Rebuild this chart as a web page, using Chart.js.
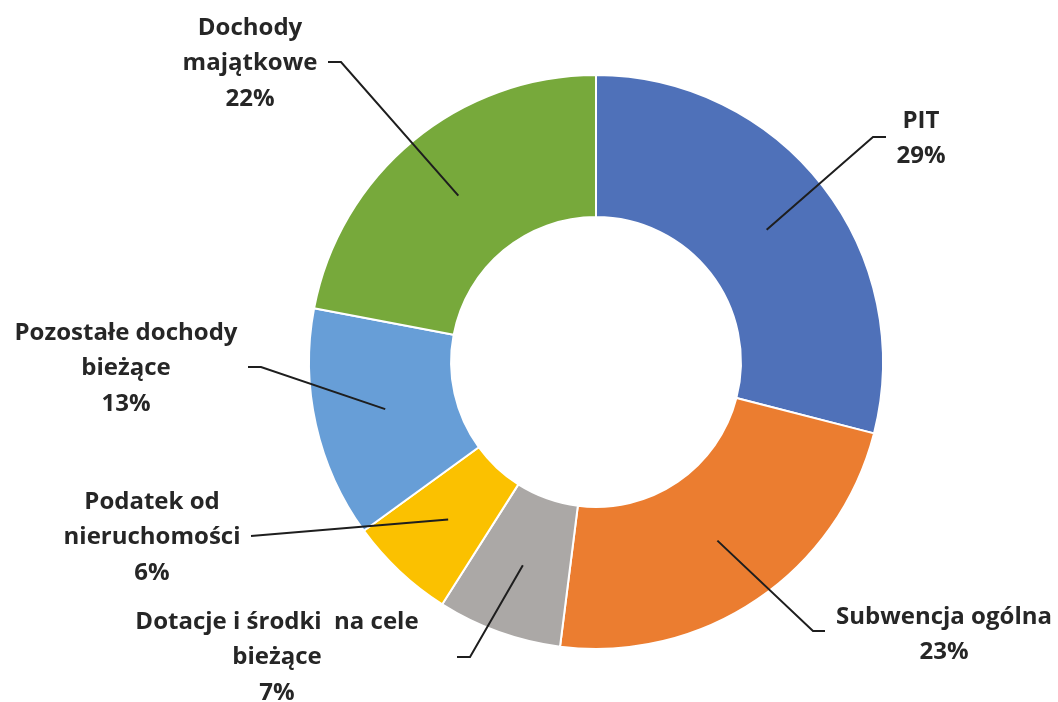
<!DOCTYPE html>
<html lang="pl">
<head>
<meta charset="utf-8">
<title>Struktura dochodów</title>
<script src="https://cdn.jsdelivr.net/npm/chart.js@4"></script>
<style>
    html, body { margin: 0; padding: 0; background: #ffffff; }
    .wrap { width: 1058px; height: 702px; position: relative; }
</style>
</head>
<body>
<div class="wrap"><canvas id="donutChart"></canvas></div>
<script>
// dane
const categories = ['PIT', 'Subwencja ogólna', 'Dotacje i środki  na cele bieżące', 'Podatek od nieruchomości', 'Pozostałe dochody bieżące', 'Dochody majątkowe'];
const shares = [29, 23, 7, 6, 13, 22];
const labelLines = [
    ['PIT'],
    ['Subwencja ogólna'],
    ['Dotacje i środki  na cele', 'bieżące'],
    ['Podatek od', 'nieruchomości'],
    ['Pozostałe dochody', 'bieżące'],
    ['Dochody', 'majątkowe']
];
const colors = ['#4F71B9', '#EB7D30', '#ABA8A6', '#FBC100', '#679ED7', '#77A93B'];

// label placement, relative to the chart centre (px)
const labelLayout = [
    { elbow: [277, -225], tail: 13,  text: [325, -241] },
    { elbow: [217, 269],  tail: 12,  text: [348, 255] },
    { elbow: [-126, 295], tail: -13, text: [-319, 260] },
    { elbow: [-345, 174], tail: 0,   text: [-444, 140] },
    { elbow: [-335, 5],   tail: -13, text: [-470, -29] },
    { elbow: [-255, -300], tail: -13, text: [-346, -334] }
];

const leaderLabels = {
    id: 'leaderLabels',
    afterDatasetsDraw(chart) {
        const ctx = chart.ctx;
        const meta = chart.getDatasetMeta(0);
        meta.data.forEach(function (arc, i) {
            const p = arc.getProps(['x', 'y', 'startAngle', 'endAngle', 'innerRadius', 'outerRadius'], true);
            const a = (p.startAngle + p.endAngle) / 2;
            const r = (p.innerRadius + p.outerRadius) / 2;
            const sx = p.x + Math.cos(a) * r;
            const sy = p.y + Math.sin(a) * r;
            const lay = labelLayout[i];
            const ex = p.x + lay.elbow[0];
            const ey = p.y + lay.elbow[1];

            ctx.save();
            ctx.strokeStyle = '#1e1e1e';
            ctx.lineWidth = 2;
            ctx.beginPath();
            ctx.moveTo(sx, sy);
            ctx.lineTo(ex, ey);
            if (lay.tail) ctx.lineTo(ex + lay.tail, ey);
            ctx.stroke();

            ctx.fillStyle = '#262626';
            ctx.font = "bold 24px 'Open Sans', sans-serif";
            ctx.textAlign = 'center';
            ctx.textBaseline = 'middle';
            const lines = labelLines[i].concat([shares[i] + '%']);
            lines.forEach(function (t, k) {
                ctx.fillText(t, p.x + lay.text[0], p.y + lay.text[1] + k * 35.5);
            });
            ctx.restore();
        });
    }
};

new Chart(document.getElementById('donutChart'), {
    type: 'doughnut',
    data: {
        labels: categories,
        datasets: [{
            data: shares,
            backgroundColor: colors,
            borderColor: '#ffffff',
            borderWidth: 2
        }]
    },
    options: {
        responsive: true,
        maintainAspectRatio: false,
        animation: false,
        cutout: '50.5%',
        layout: { padding: { left: 308, right: 174, top: 74, bottom: 52 } },
        plugins: {
            legend: { display: false },
            tooltip: { enabled: false }
        }
    },
    plugins: [leaderLabels]
});
</script>
</body>
</html>
